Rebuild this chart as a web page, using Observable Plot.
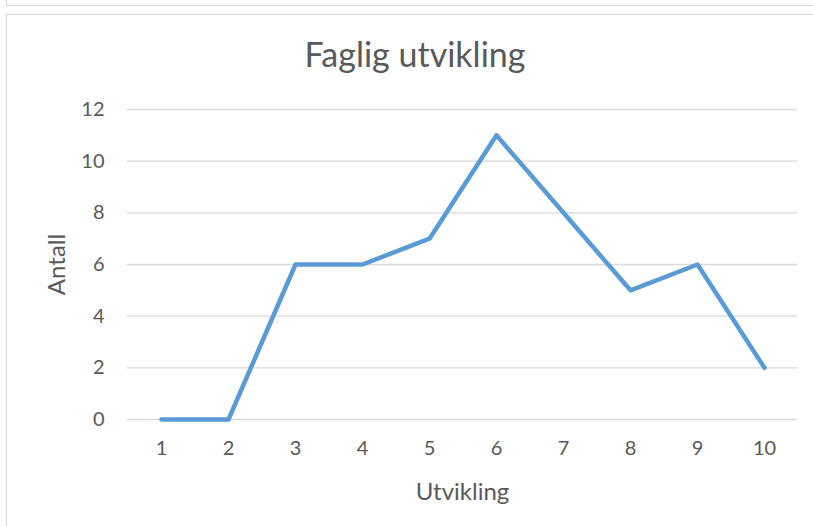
<!DOCTYPE html>
<html>
<head>
<meta charset="utf-8">
<script src="https://cdn.jsdelivr.net/npm/d3@7"></script>
<script src="https://cdn.jsdelivr.net/npm/@observablehq/plot@0.6"></script>
<style>
  html, body { margin: 0; padding: 0; background: #fff; }
  #wrap { position: relative; width: 813px; height: 526px; overflow: hidden; font-family: Lato, "Open Sans", sans-serif; }
  .b { position: absolute; background: #d9d9d9; }
  #title { position: absolute; left: 0; width: 830px; top: 34px; line-height: 40px; text-align: center; font-size: 34px; color: #595959; }
  #chart { position: absolute; left: 0; top: 0; }
  #chart svg g[aria-label="y-axis tick label"],
  #chart svg g[aria-label="x-axis tick label"] { font-size: 20px !important; }
  #chart svg g[aria-label="y-axis label"],
  #chart svg g[aria-label="x-axis label"] { font-size: 24px !important; }
</style>
</head>
<body>
<div id="wrap">
  <div class="b" style="left:6px; top:0; width:1px; height:5px"></div>
  <div class="b" style="left:6px; top:5px; width:807px; height:1px"></div>
  <div class="b" style="left:6px; top:14px; width:807px; height:1px"></div>
  <div class="b" style="left:6px; top:14px; width:1px; height:512px"></div>
  <div id="chart"></div>
  <div id="title">Faglig utvikling</div>
</div>
<script>
const categories = ["1","2","3","4","5","6","7","8","9","10"];
const values = [0, 0, 6, 6, 7, 11, 8, 5, 6, 2];
const yTicks = [0, 2, 4, 6, 8, 10, 12];
const title = "Faglig utvikling";
const xLabel = "Utvikling";
const yLabel = "Antall";

const data = categories.map((c, i) => ({x: c, y: values[i]}));

const chart = Plot.plot({
  width: 813,
  height: 526,
  marginLeft: 127,
  marginRight: 16,
  marginTop: 109,
  marginBottom: 107,
  style: { fontFamily: "Lato, 'Open Sans', sans-serif", fontSize: "20px", color: "#595959", background: "transparent" },
  x: { type: "point", domain: categories, padding: 0.5, label: null },
  y: { domain: [0, 12], label: null },
  marks: [
    Plot.ruleY(yTicks, { stroke: "#d9d9d9", strokeWidth: 1.3, strokeOpacity: 1 }),
    Plot.axisY(yTicks, { tickSize: 0, tickPadding: 23, fontSize: 20, fill: "#595959", label: yLabel, labelAnchor: "center", labelArrow: "none", labelOffset: 80 }),
    Plot.axisX(categories, { tickSize: 0, tickPadding: 21, fontSize: 20, fill: "#595959", label: xLabel, labelAnchor: "center", labelArrow: "none", labelOffset: 80 }),
    Plot.lineY(data, { x: "x", y: "y", stroke: "#5b9bd5", strokeWidth: 4.5, strokeLinejoin: "round", strokeLinecap: "round" })
  ]
});
document.getElementById("chart").appendChild(chart);
document.getElementById("title").textContent = title;
</script>
</body>
</html>
